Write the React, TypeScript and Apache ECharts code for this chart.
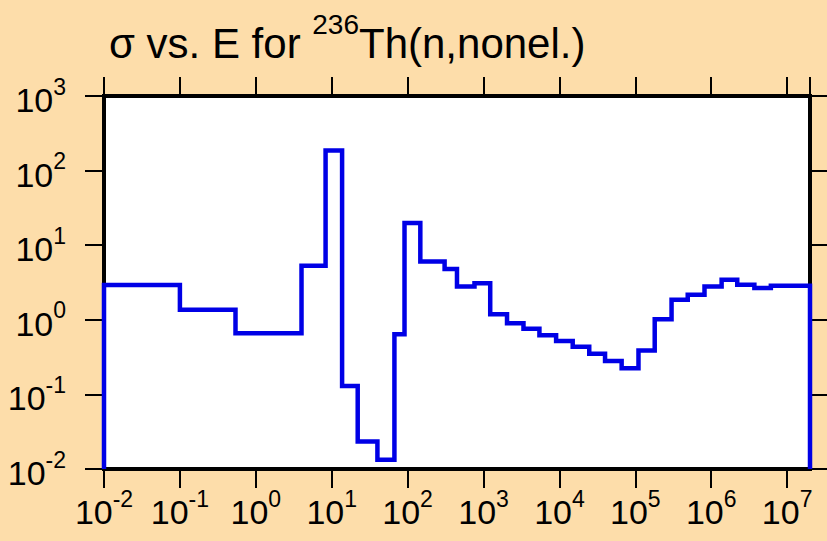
import React, { useEffect, useRef } from "react";
import * as echarts from "echarts";

// Bin edges (eV) and cross sections (b)
const energyEdges = [
  0.01, 0.1, 0.54, 4.0, 8.3, 13.7, 22, 40, 67, 91, 147, 307, 447, 760, 1225,
  2040, 3360, 5450, 9040, 14960, 24700, 39900, 66000, 110000, 180000, 300000,
  490000, 815000, 1.37e6, 2.2e6, 3.7e6, 6.1e6, 2e7,
];
const sigmaValues = [
  2.93, 1.36, 0.66, 5.3, 186, 0.13, 0.0234, 0.0133, 0.64, 19.8, 6.05, 4.8, 2.8,
  3.1, 1.19, 0.9, 0.76, 0.62, 0.52, 0.435, 0.35, 0.28, 0.225, 0.387, 1.02, 1.85,
  2.16, 2.8, 3.44, 2.94, 2.66, 2.85,
];
const xRange = [0.01, 2e7];
const yRange = [0.01, 1000];
const titleParts = ["σ vs. E for ", "236", "Th(n,nonel.)"];

export default function App() {
  const ref = useRef<HTMLDivElement>(null);
  useEffect(() => {
    if (!ref.current) return;
    const chart = echarts.init(ref.current, null, { renderer: "svg" });
    const pts: [number, number][] = [[energyEdges[0], yRange[0]]];
    for (let i = 0; i < sigmaValues.length; i++) {
      pts.push([energyEdges[i], sigmaValues[i]]);
      pts.push([energyEdges[i + 1], sigmaValues[i]]);
    }
    pts.push([energyEdges[energyEdges.length - 1], yRange[0]]);

    const font = "'Liberation Sans', Arial, Helvetica, sans-serif";
    const fmt = (v: number) => `{b|10}{s|${Math.round(Math.log10(v))}}`;
    const rich = {
      b: { fontSize: 34, fontFamily: font, color: "#000", fontWeight: "normal", verticalAlign: "bottom", lineHeight: 42 },
      s: { fontSize: 23, fontFamily: font, color: "#000", fontWeight: "normal", verticalAlign: "top", lineHeight: 42 },
    };
    const tick = { show: true, inside: false, length: 19, lineStyle: { color: "#000", width: 2 } };
    const xBase = {
      type: "log" as const,
      logBase: 10,
      min: xRange[0],
      max: xRange[1],
      interval: 1,
      axisLine: { show: false },
      splitLine: { show: false },
      axisTick: tick,
    };
    const yBase = {
      type: "log" as const,
      logBase: 10,
      min: yRange[0],
      max: yRange[1],
      interval: 1,
      axisLine: { show: false },
      splitLine: { show: false },
      axisTick: tick,
    };

    chart.setOption({
      animation: false,
      backgroundColor: "#FDDDAA",
      title: {
        text: `{a|${titleParts[0]}}{s|${titleParts[1]}}{a|${titleParts[2]}}`,
        left: 104,
        top: 5,
        textStyle: {
          fontSize: 42,
          fontWeight: "normal",
          fontFamily: font,
          rich: {
            a: { fontSize: 42, fontFamily: font, fontWeight: "normal", color: "#000", verticalAlign: "bottom", lineHeight: 54 },
            s: { fontSize: 28, fontFamily: font, fontWeight: "normal", color: "#000", verticalAlign: "top", lineHeight: 54 },
          },
        },
      },
      grid: {
        left: 104,
        right: 17,
        top: 96,
        bottom: 72,
        show: true,
        backgroundColor: "#FFFFFF",
        borderColor: "#000",
        borderWidth: 4,
        containLabel: false,
      },
      xAxis: [
        {
          ...xBase,
          position: "bottom",
          axisLabel: { show: true, margin: 18, fontSize: 34, fontFamily: font, color: "#000", formatter: fmt, rich },
        },
        { ...xBase, position: "top", axisLabel: { show: false } },
      ],
      yAxis: [
        {
          ...yBase,
          position: "left",
          axisLabel: {
            show: true,
            margin: 38,
            fontSize: 34,
            fontFamily: font,
            color: "#000",
            formatter: fmt,
            rich,
            showMaxLabel: true,
            showMinLabel: true,
          },
        },
        { ...yBase, position: "right", axisLabel: { show: false } },
      ],
      series: [
        {
          type: "line",
          data: pts,
          xAxisIndex: 0,
          yAxisIndex: 0,
          showSymbol: false,
          symbol: "none",
          clip: true,
          lineStyle: { color: "#0000E6", width: 4.5, join: "miter" },
        },
      ],
    });
    return () => chart.dispose();
  }, []);
  return <div ref={ref} style={{ width: 827, height: 541, position: "absolute", left: 0, top: 0 }} />;
}
